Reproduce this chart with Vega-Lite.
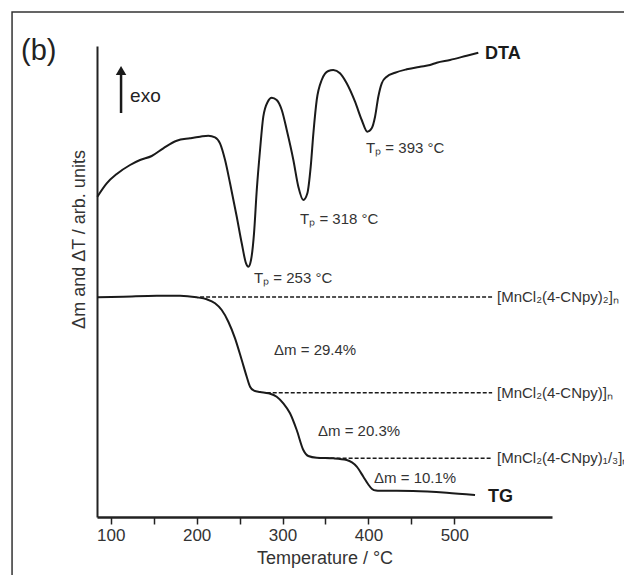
{
  "$schema": "https://vega.github.io/schema/vega-lite/v6.json",
  "width": 455,
  "height": 471,
  "autosize": "none",
  "padding": {"left": 97, "top": 46, "right": 72, "bottom": 58},
  "background": "white",
  "config": {
    "view": {"stroke": null},
    "font": "Liberation Sans",
    "text": {"font": "Liberation Sans", "baseline": "middle", "align": "left", "color": "#333"}
  },
  "datasets": {
    "dta": [
      {"T": 84.4, "y": 320.3}, {"T": 95.3, "y": 333.7}, {"T": 107.0, "y": 343}, {"T": 122.5, "y": 352},
      {"T": 134.1, "y": 357}, {"T": 147.7, "y": 361}, {"T": 161.2, "y": 368.7}, {"T": 176.8, "y": 376.3},
      {"T": 192.3, "y": 378.7}, {"T": 204.0, "y": 380.3}, {"T": 213.6, "y": 381.3}, {"T": 221.4, "y": 379.7},
      {"T": 227.2, "y": 373.7}, {"T": 233.1, "y": 357}, {"T": 238.9, "y": 333.7}, {"T": 246.7, "y": 300.3},
      {"T": 252.5, "y": 273.7}, {"T": 257.5, "y": 253.7}, {"T": 260.2, "y": 250.3}, {"T": 263.3, "y": 257},
      {"T": 266.8, "y": 283.7}, {"T": 270.0, "y": 327}, {"T": 273.8, "y": 367}, {"T": 277.6, "y": 400.3},
      {"T": 282.8, "y": 415.3}, {"T": 287.4, "y": 419.3}, {"T": 293.2, "y": 417}, {"T": 299.1, "y": 407},
      {"T": 304.9, "y": 387}, {"T": 312.6, "y": 357}, {"T": 318.4, "y": 330.3}, {"T": 324.2, "y": 317},
      {"T": 328.9, "y": 323.7}, {"T": 332.8, "y": 350.3}, {"T": 335.9, "y": 383.7}, {"T": 339.8, "y": 417},
      {"T": 345.6, "y": 437}, {"T": 353.3, "y": 446}, {"T": 359.1, "y": 447}, {"T": 366.9, "y": 443.7},
      {"T": 374.7, "y": 433.7}, {"T": 384.4, "y": 415.3}, {"T": 392.2, "y": 397}, {"T": 398.7, "y": 385.3},
      {"T": 403.8, "y": 388.7}, {"T": 407.7, "y": 400.3}, {"T": 411.5, "y": 420.3}, {"T": 415.5, "y": 433.7},
      {"T": 421.3, "y": 440.3}, {"T": 431.0, "y": 444.3}, {"T": 444.6, "y": 447.7}, {"T": 460.1, "y": 450.3},
      {"T": 471.7, "y": 452}, {"T": 479.5, "y": 454.3}, {"T": 495.0, "y": 457}, {"T": 514.4, "y": 461.3},
      {"T": 527.9, "y": 464.3}
    ],
    "tg": [
      {"T": 84.5, "y": 219.7}, {"T": 114.7, "y": 220.3}, {"T": 153.6, "y": 221.3}, {"T": 180.7, "y": 221.3},
      {"T": 200.1, "y": 219.7}, {"T": 211.8, "y": 217.7}, {"T": 221.4, "y": 213.7}, {"T": 229.2, "y": 207},
      {"T": 236.9, "y": 195.3}, {"T": 244.7, "y": 178.7}, {"T": 252.5, "y": 157}, {"T": 258.3, "y": 140.3},
      {"T": 262.2, "y": 130.3}, {"T": 266.8, "y": 126.3}, {"T": 273.8, "y": 125}, {"T": 283.5, "y": 123.7},
      {"T": 293.2, "y": 120.3}, {"T": 300.9, "y": 113.7}, {"T": 308.7, "y": 103.7}, {"T": 316.5, "y": 87},
      {"T": 324.2, "y": 67}, {"T": 330.0, "y": 61}, {"T": 339.8, "y": 59.3}, {"T": 359.1, "y": 58.7},
      {"T": 374.7, "y": 57}, {"T": 386.4, "y": 50.3}, {"T": 394.1, "y": 40.3}, {"T": 399.5, "y": 33},
      {"T": 404.2, "y": 28}, {"T": 408.8, "y": 26.5}, {"T": 413.5, "y": 26.3}, {"T": 451.9, "y": 26},
      {"T": 491.2, "y": 24.3}, {"T": 524.1, "y": 22}
    ],
    "dash": [
      {"T": 204, "T2": 544, "y": 220},
      {"T": 281.6, "T2": 544, "y": 124.3},
      {"T": 342, "T2": 544, "y": 58.7}
    ],
    "ann": [
      {"T": 397.2, "y": 369, "text": "Tₚ = 393 °C"},
      {"T": 320.4, "y": 298, "text": "Tₚ = 318 °C"},
      {"T": 266.8, "y": 239, "text": "Tₚ = 253 °C"},
      {"T": 290.1, "y": 167, "text": "Δm = 29.4%"},
      {"T": 341.3, "y": 86, "text": "Δm = 20.3%"},
      {"T": 406.5, "y": 39, "text": "Δm = 10.1%"},
      {"T": 549.7, "y": 220, "text": "[MnCl₂(4-CNpy)₂]ₙ"},
      {"T": 549.7, "y": 124, "text": "[MnCl₂(4-CNpy)]ₙ"},
      {"T": 549.7, "y": 59, "text": "[MnCl₂(4-CNpy)₁/₃]ₙ"}
    ],
    "bold": [
      {"T": 535.7, "y": 463, "text": "DTA"},
      {"T": 539.2, "y": 20, "text": "TG"}
    ]
  },
  "layer": [
    {
      "data": {"values": [{"x1": -14.9, "x2": 710, "y1": 505, "y2": -80}]},
      "mark": {"type": "rect", "fill": null, "stroke": "#333", "strokeWidth": 1.5, "clip": false},
      "encoding": {
        "x": {"field": "x1", "type": "quantitative", "scale": {"domain": [84, 613.7], "nice": false, "zero": false},
          "axis": {
            "values": [100, 125, 150, 175, 200, 225, 250, 275, 300, 325, 350, 375, 400, 425, 450, 475, 500],
            "labelExpr": "datum.value % 100 === 0 ? datum.label : ''",
            "format": "d", "grid": false, "labelOverlap": false,
            "tickSize": 7, "tickWidth": 1.5, "tickColor": "#222",
            "domainColor": "#222", "domainWidth": 2.5,
            "labelFont": "Liberation Sans", "labelFontSize": 17, "labelColor": "#333", "labelPadding": 3,
            "title": "Temperature / °C", "titleFont": "Liberation Sans", "titleFontSize": 18,
            "titleFontWeight": "normal", "titleColor": "#333", "titlePadding": 6
          }},
        "x2": {"field": "x2"},
        "y": {"field": "y1", "type": "quantitative", "scale": {"domain": [0, 471], "nice": false, "zero": false},
          "axis": {
            "ticks": false, "labels": false, "grid": false,
            "domainColor": "#222", "domainWidth": 2,
            "title": "Δm and ΔT / arb. units", "titleFont": "Liberation Sans", "titleFontSize": 18,
            "titleFontWeight": "normal", "titleColor": "#333",
            "titleX": -9, "titleY": 193, "titleAlign": "center", "titleBaseline": "bottom", "titleAngle": -90
          }},
        "y2": {"field": "y2"}
      }
    },
    {
      "data": {"name": "dta"},
      "mark": {"type": "line", "color": "#1a1a1a", "strokeWidth": 2, "interpolate": "monotone"},
      "encoding": {"x": {"field": "T", "type": "quantitative"}, "y": {"field": "y", "type": "quantitative"}}
    },
    {
      "data": {"name": "tg"},
      "mark": {"type": "line", "color": "#1a1a1a", "strokeWidth": 2, "interpolate": "monotone"},
      "encoding": {"x": {"field": "T", "type": "quantitative"}, "y": {"field": "y", "type": "quantitative"}}
    },
    {
      "data": {"name": "dash"},
      "mark": {"type": "rule", "color": "#1a1a1a", "strokeWidth": 1.6, "strokeDash": [4, 2]},
      "encoding": {"x": {"field": "T", "type": "quantitative"}, "x2": {"field": "T2"}, "y": {"field": "y", "type": "quantitative"}}
    },
    {
      "data": {"values": [{"T": 112, "y": 404, "y2": 442}]},
      "mark": {"type": "rule", "color": "#1a1a1a", "strokeWidth": 2.5},
      "encoding": {"x": {"field": "T", "type": "quantitative"}, "y": {"field": "y", "type": "quantitative"}, "y2": {"field": "y2"}}
    },
    {
      "data": {"values": [{"T": 112, "y": 446.5}]},
      "mark": {"type": "point", "shape": "triangle-up", "filled": true, "color": "#1a1a1a", "size": 110, "opacity": 1},
      "encoding": {"x": {"field": "T", "type": "quantitative"}, "y": {"field": "y", "type": "quantitative"}}
    },
    {
      "data": {"values": [{"T": 122.5, "y": 421, "text": "exo"}]},
      "mark": {"type": "text", "fontSize": 19, "color": "#222"},
      "encoding": {"x": {"field": "T", "type": "quantitative"}, "y": {"field": "y", "type": "quantitative"}, "text": {"field": "text"}}
    },
    {
      "data": {"values": [{"T": -4.4, "y": 466, "text": "(b)"}]},
      "mark": {"type": "text", "fontSize": 29, "color": "#222"},
      "encoding": {"x": {"field": "T", "type": "quantitative"}, "y": {"field": "y", "type": "quantitative"}, "text": {"field": "text"}}
    },
    {
      "data": {"name": "ann"},
      "mark": {"type": "text", "fontSize": 15, "color": "#333"},
      "encoding": {"x": {"field": "T", "type": "quantitative"}, "y": {"field": "y", "type": "quantitative"}, "text": {"field": "text"}}
    },
    {
      "data": {"name": "bold"},
      "mark": {"type": "text", "fontSize": 18, "fontWeight": "bold", "color": "#1a1a1a"},
      "encoding": {"x": {"field": "T", "type": "quantitative"}, "y": {"field": "y", "type": "quantitative"}, "text": {"field": "text"}}
    }
  ]
}
